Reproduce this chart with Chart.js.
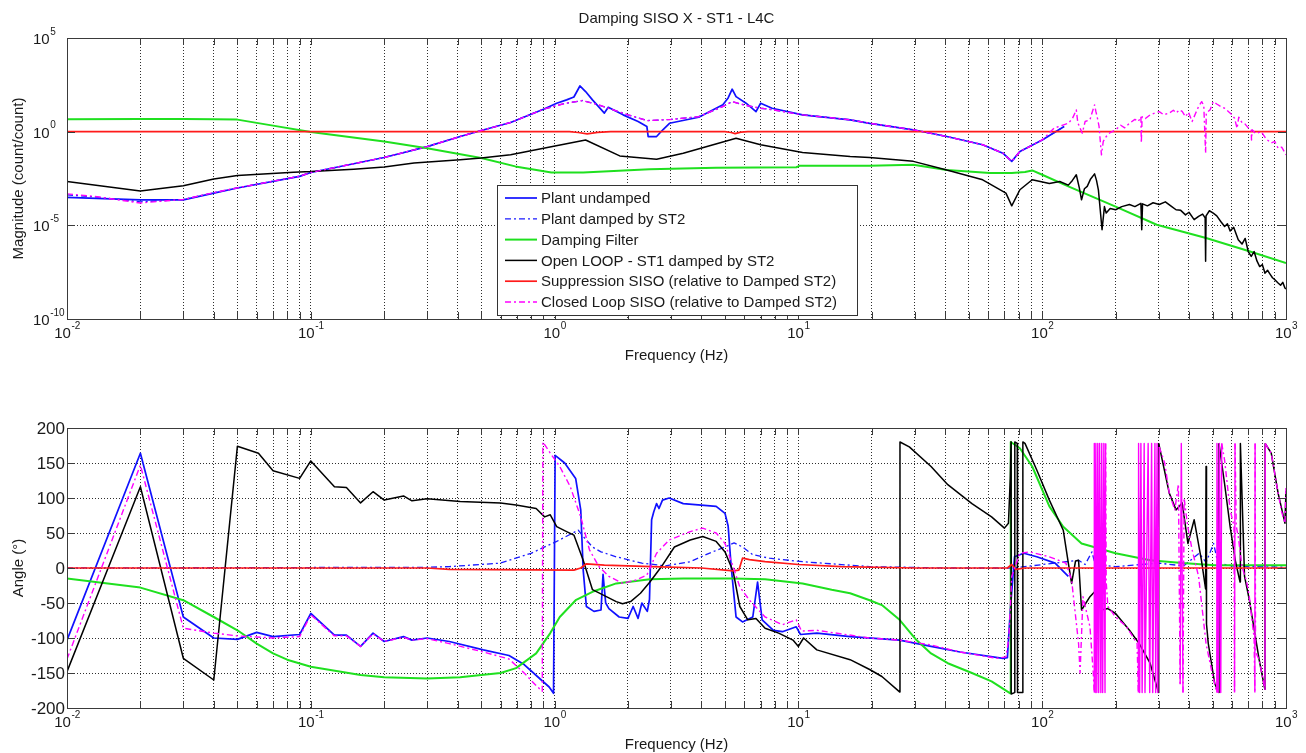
<!DOCTYPE html>
<html>
<head>
<meta charset="utf-8">
<title>Damping SISO X - ST1 - L4C</title>
<script src="https://cdn.jsdelivr.net/npm/chart.js@4.4.1/dist/chart.umd.min.js"></script>
<style>
  html, body { margin: 0; padding: 0; background: #fff; }
  #wrap { position: relative; width: 1306px; height: 753px; overflow: hidden; background: #fff; }
  #wrap canvas { position: absolute; left: 0; }
  #magCanvas { top: 0; }
  #phaseCanvas { top: 376px; }
</style>
</head>
<body>
<div id="wrap">
  <canvas id="magCanvas" width="1306" height="376"></canvas>
  <canvas id="phaseCanvas" width="1306" height="377"></canvas>
</div>
<script>
// ---------------------------------------------------------------
// Axis ticks
// ---------------------------------------------------------------
const freqDecades = [-2, -1, 0, 1, 2];
const freqMantissas = [1, 2, 3, 4, 5, 6, 7, 8, 9];
const freqTickExponents = [-2, -1, 0, 1, 2, 3];
const magTickExponents = [-10, -5, 0, 5];
const angleTicks = [200, 150, 100, 50, 0, -50, -100, -150, -200];

const seriesLabels = [
  'Plant undamped',
  'Plant damped by ST2',
  'Damping Filter',
  'Open LOOP - ST1 damped by ST2',
  'Suppression SISO (relative to Damped ST2)',
  'Closed Loop SISO (relative to Damped ST2)'
];

// ---------------------------------------------------------------
// Magnitude (count/count)
// ---------------------------------------------------------------
const undampedMagHz = [0.01,0.02,0.03,0.04,0.05,0.09,0.1,0.2,0.3,0.41,0.5,0.66,0.9,1.02,1.12,1.2,1.27,1.34,1.43,1.6,1.66,1.91,2.2,2.39,2.42,2.62,2.78,2.96,3.9,4.9,5.15,5.35,5.55,6.1,6.7,7.0,7.8,10.4,16.3,19.6,29.6,40.6,57,69,75,81,100,123];
const undampedMag   = [3.1e-4,2.3e-4,2.3e-4,5.2e-4,9.8e-4,4.1e-3,6.6e-3,4.2e-2,0.16,0.55,1.15,3.1,15.8,33,50,71,275,138,50,9.8,20,7.9,3.5,1.9,0.55,0.55,1.26,2.8,5.9,27,63,186,74,33,11.7,33,17.8,7.9,4.3,2.8,1.26,0.55,0.2,0.071,0.026,0.087,0.36,1.9];

const dampedMagHz = [0.01,0.013,0.02,0.025,0.03,0.04,0.05,0.09,0.1,0.2,0.3,0.41,0.5,0.66,0.9,1.1,1.3,1.5,2.0,2.4,3.0,3.9,4.9,5.35,6.1,7.0,7.8,10.4,16.3,19.6,29.6,40.6,57,69,75,81,100,123];
const dampedMag   = [4.2e-4,3.3e-4,1.8e-4,2.1e-4,2.4e-4,5.4e-4,1.0e-3,4.2e-3,6.6e-3,4.2e-2,0.16,0.55,1.15,3.1,15.8,32,46,28,7.9,3.9,4.5,6.3,22,40,25,17.8,15,7.9,4.3,2.8,1.26,0.55,0.2,0.071,0.026,0.087,0.36,1.9];

const filterMagHz = [0.01,0.02,0.03,0.04,0.05,0.07,0.1,0.2,0.3,0.5,0.69,0.97,1.31,2.45,4.6,9.8,10.1,19.6,29.6,40.6,61,75,85,91,100,128,200,295,470,707,1000];
const filterMag   = [4.6,4.7,4.7,4.6,4.4,2.1,0.95,0.30,0.13,0.039,0.014,6.6e-3,6.6e-3,1.0e-2,1.2e-2,1.26e-2,1.5e-2,1.5e-2,1.7e-2,9.1e-3,6.2e-3,6.2e-3,7.0e-3,8.5e-3,5.0e-3,1.2e-3,1.0e-4,1.07e-5,2.1e-6,4.1e-7,9.8e-8];

const openLoopMagHz = [0.01,0.02,0.03,0.04,0.05,0.085,0.1,0.15,0.2,0.265,0.41,0.5,0.66,0.98,1.34,1.85,2.62,3.37,5.55,7.0,10.4,16.3,19.6,29.6,40.6,57,71,75,81,91,107,118,128,133,138,142,145,149,153,158,164,167,170,176,180,183,190,200,212,228,240,254,256,258,270,285,302,320,340,354,370,387,400,420,438,455,466,468,470,485,503,520,540,560,575,590,610,637,660,680,700,720,740,760,780,800,820,840,860,880,900,928,950,970,990,1000];
const openLoopMag   = [2.2e-3,6.9e-4,1.3e-3,3.0e-3,4.6e-3,6.9e-3,7.4e-3,1.0e-2,1.3e-2,2.1e-2,3.2e-2,3.9e-2,5.8e-2,0.16,0.36,0.051,0.034,0.071,0.45,0.2,0.078,0.047,0.042,0.026,9.1e-3,2.7e-3,5.2e-4,1.1e-4,7.9e-4,2.7e-3,1.7e-3,2.2e-3,1.4e-3,2.5e-3,5.0e-3,1.0e-3,2.3e-4,9.0e-4,1.2e-3,3.0e-3,5.6e-3,2.5e-3,7.9e-4,5.8e-6,1.0e-4,4.5e-5,8.0e-5,6.8e-5,1.0e-4,1.3e-4,1.0e-4,1.5e-4,5.8e-6,1.4e-4,1.1e-4,1.6e-4,1.3e-4,1.8e-4,1.0e-4,6.8e-5,6.3e-5,3.6e-5,5.0e-5,2.0e-5,3.0e-5,4.0e-5,2.5e-5,1.2e-7,3.2e-5,6.0e-5,4.5e-5,3.2e-5,1.6e-5,8.7e-6,1.2e-5,5.0e-6,7.9e-6,1.7e-6,1.0e-6,2.0e-6,4.0e-7,2.2e-7,4.0e-7,1.26e-7,6.3e-8,8.0e-8,2.8e-8,4.0e-8,2.5e-8,1.6e-8,1.26e-8,8.3e-9,6.3e-9,9.0e-9,4.5e-9,4.0e-9];

const suppressionMagHz = [0.01,1.15,1.25,1.36,1.5,1.7,5.0,5.3,5.5,5.8,6.2,1000];
const suppressionMag   = [1,1,0.9,0.76,0.92,1,1,0.9,0.78,0.95,1,1];

const closedLoopMagHz = [0.01,0.013,0.02,0.025,0.03,0.04,0.05,0.09,0.1,0.2,0.3,0.41,0.5,0.66,0.9,1.1,1.3,1.5,2.0,2.4,3.0,3.9,4.9,5.35,6.1,7.0,7.8,10.4,16.3,19.6,29.6,40.6,57,69,75,81,100,112,128,133,138,140,142,146,150,157,160,164,166,168,171,175,178,183,190,200,210,218,228,240,248,254,255,257,265,277,290,302,315,332,345,355,365,375,387,398,412,425,438,451,460,468,471,488,503,520,540,560,580,600,615,630,640,660,676,700,720,722,726,750,792,830,870,900,928,960,1000];
const closedLoopMag   = [4.8e-4,3.5e-4,1.55e-4,2.0e-4,2.4e-4,5.6e-4,1.0e-3,4.2e-3,6.6e-3,4.2e-2,0.16,0.55,1.15,3.1,15.8,32,46,28,7.9,3.9,4.5,6.3,22,40,25,17.8,15,7.9,4.3,2.8,1.26,0.55,0.2,0.071,0.026,0.087,0.36,1.55,2.8,5,14.5,3,1.9,0.83,3.5,4.3,10,27,12,6.3,2,0.058,0.3,0.55,0.9,1.26,2.2,1.6,2.8,4.5,3.5,6.3,0.25,6.3,5,7.9,10,11.7,8,9.8,14,10,14.5,12,6.3,11,3.5,9,22,40,25,0.071,10,14.5,40,30,22,17.8,12,8,5.2,1.5,6,3,2.8,1.6,1.26,0.36,1.26,0.8,1.0,0.4,0.25,0.3,0.13,0.15,0.058];

// ---------------------------------------------------------------
// Angle (deg)
// ---------------------------------------------------------------
const undampedPhaseHz = [0.01,0.02,0.03,0.04,0.05,0.06,0.07,0.09,0.1,0.125,0.14,0.16,0.18,0.2,0.24,0.26,0.3,0.37,0.51,0.65,0.75,0.85,0.95,0.99,1.005,1.1,1.22,1.28,1.31,1.35,1.45,1.55,1.58,1.62,1.67,1.84,2.0,2.1,2.2,2.28,2.4,2.45,2.5,2.55,2.62,2.68,2.77,2.95,3.37,4.6,5.0,5.15,5.3,5.55,5.9,6.5,6.8,7.1,7.9,8.6,9.8,10.2,11.9,16.3,26,35,46,69,72,74,77,84,95,113,128];
const undampedPhase   = [-103,164,-70,-100,-102,-92,-98,-95,-65,-96,-96,-112,-93,-105,-98,-103,-100,-105,-117,-125,-138,-155,-170,-179,161,150,128,83,-3,-55,-62,-60,-9,-50,-58,-70,-72,-55,-72,-50,-62,-45,69,80,92,85,97,100,92,88,78,60,2,-70,-77,-70,-20,-74,-89,-91,-84,-95,-93,-98,-103,-112,-120,-129,-128,-60,16,21,16,7,-12];

const dampedPhaseHz = [0.01,0.3,0.37,0.6,0.8,1.02,1.25,1.31,1.43,1.55,1.79,2.28,2.85,3.6,4.3,5.0,5.45,5.9,6.5,7.6,10.4,19.6,40,75,90,141,150,160,165,200,300,380,440,470,505,525,600,707,1000];
const dampedPhase   = [0,1,2,7,21,38,54,45,30,23,16,7,3,9,21,30,36,30,19,14,9,2,0,0,3,11,5,23,5,2,7,3,21,8,35,7,3,2,1];

const filterPhaseHz = [0.01,0.02,0.03,0.04,0.05,0.06,0.07,0.08,0.1,0.16,0.2,0.3,0.41,0.5,0.6,0.695,0.84,0.96,1.05,1.22,1.43,1.79,2.46,3.37,5.4,7.3,10.4,13.7,16.3,19.6,22,26,30.5,35,41,51.5,62,74,74.3,81,91,107,122,145,200,277,375,510,1000];
const filterPhase   = [-15,-28,-46,-70,-89,-108,-122,-131,-141,-153,-156,-158,-156,-153,-150,-143,-122,-93,-70,-46,-34,-22,-16,-15,-15,-16,-22,-31,-36,-46,-53,-74,-103,-122,-136,-150,-162,-179,180,171,145,88,59,35,21,11,7,4,4];

const openLoopPhaseHz = [0.01,0.02,0.03,0.04,0.05,0.061,0.07,0.09,0.1,0.125,0.14,0.16,0.18,0.2,0.24,0.26,0.3,0.41,0.6,0.695,0.84,0.91,0.96,1.02,1.12,1.2,1.31,1.43,1.63,1.79,1.9,2.05,2.25,2.46,2.77,3.1,3.6,4.05,4.6,5.0,5.4,5.75,6.2,6.7,7.3,8.3,9.5,10,10.5,11.9,16.3,19.6,22,26,26.1,28.5,35,41,51.5,62,70,72.7,74,74.5,74.6,77,77.2,79,79.2,83,83.3,85,95,107,122,128,132,137,141,145,157,167,175,186,200,228,250,277,290,300,300.5,332,354,375,396,420,450,468,470,472,480,510,530,531,560,590,620,648,650,676,707,776,820,821,870,928,990,1000];
const openLoopPhase   = [-148,116,-129,-160,174,164,139,128,153,116,115,93,109,97,103,96,99,95,93,90,85,73,76,59,52,47,11,-31,-41,-48,-51,-48,-36,-20,4,30,40,45,38,23,-5,-55,-74,-72,-86,-93,-103,-112,-100,-117,-131,-145,-155,-177,180,173,145,119,92,73,57,64,130,180,-180,-178,180,178,-178,-178,180,178,140,97,54,7,-22,10,11,-60,-41,-31,-60,-58,-65,-89,-108,-136,-160,-178,178,107,83,93,35,69,11,-30,145,-80,-108,-165,-178,178,120,59,10,-20,178,-12,-45,-131,-174,178,164,107,64,110];

const suppressionPhaseHz = [0.01,0.3,0.37,1.2,1.28,1.35,1.6,2.5,4.0,5.4,5.7,5.9,6.3,7.3,10,15,30,72,75,78,85,1000];
const suppressionPhase   = [0,0,-2,-3,0,6,4,2,0,-4,-3,14,12,9,5,2,0,0,5,-2,0,0];

const closedLoopPhaseHz = [0.01,0.02,0.03,0.04,0.05,0.07,0.09,0.1,0.125,0.14,0.16,0.18,0.2,0.24,0.26,0.3,0.37,0.51,0.65,0.75,0.84,0.89,0.895,0.96,1.05,1.16,1.28,1.39,1.52,1.67,1.9,2.17,2.39,2.62,2.95,3.6,4.05,4.6,5.0,5.4,5.75,6.3,7.3,8.6,9.8,10.3,11.9,19.6,26,35,46,65,71,73,75,81,89,107,125,132,141,143,147,157,162,163.5,163.6,165,166,167.5,169,170.5,172,174,175.5,177,179,181,182,183,186,200,222,245,248,248.5,251,254,257,262,264,272,276,281,284,290,292,296,298,302,318,332,350,362,368,372,378,382,395,412,438,470,495,520,521,527,533,540,545,560,590,612,615,618,625,637,660,690,707,740,745,747,750,776,820,822,870,928,960,990,1000];
const closedLoopPhase   = [-130,147,-86,-93,-97,-100,-98,-67,-97,-97,-112,-94,-105,-99,-103,-101,-108,-120,-130,-150,-168,-176,180,164,145,116,73,26,2,-12,-22,-17,-10,21,40,52,57,50,35,2,-27,-46,-70,-81,-74,-90,-89,-100,-103,-110,-120,-129,-127,-100,-12,21,23,16,7,-17,-108,-150,-41,-84,-150,-178,178,-178,178,-178,178,-178,178,-178,178,-178,178,-178,178,-20,-55,-70,-84,-108,-178,178,-178,178,-178,178,-178,178,-178,178,-178,178,-178,178,-178,173,150,107,83,120,-166,178,-178,100,60,26,-12,-108,-146,-178,178,-178,178,-178,178,154,83,60,-178,178,60,45,2,-20,-41,-100,-178,178,-120,-131,-174,178,164,107,80,64,116];

// ---------------------------------------------------------------
// Chart construction
// ---------------------------------------------------------------
const FONT = '"Liberation Sans", Arial, Helvetica, sans-serif';
const TEXT_COLOR = '#1a1a1a';
const AXIS_COLOR = '#3a3a3a';
const GRID_COLOR = '#2e2e2e';

const freqGrid = [];
freqDecades.forEach(d => freqMantissas.forEach(m => freqGrid.push(+(m * Math.pow(10, d)).toPrecision(3))));
freqGrid.push(1000);

const lineStyles = [
  { borderColor: '#1010ff', borderWidth: 1.7, borderDash: [], order: 5 },
  { borderColor: '#1a1aff', borderWidth: 1.3, borderDash: [6, 3, 2, 3], order: 4 },
  { borderColor: '#1fe01f', borderWidth: 2.0, borderDash: [], order: 3 },
  { borderColor: '#000000', borderWidth: 1.5, borderDash: [], order: 2 },
  { borderColor: '#ff1a1a', borderWidth: 1.7, borderDash: [], order: 1 },
  { borderColor: '#ff00ff', borderWidth: 1.4, borderDash: [6, 3, 2, 3], order: 0 }
];

function points(hz, vals) {
  return hz.map((f, i) => ({ x: f, y: vals[i] }));
}

// wrapSolid: on the angle plot above 100 Hz, the +-180 deg wrap strokes
// of the noisy traces are so dense that they read as solid bars
function makeDatasets(pairs, wrapSolid) {
  return pairs.map(([hz, vals], i) => {
    const ds = Object.assign({
      label: seriesLabels[i],
      data: points(hz, vals),
      pointRadius: 0,
      pointHoverRadius: 0,
      tension: 0,
      fill: false,
      borderJoinStyle: 'round',
      borderCapStyle: 'butt'
    }, lineStyles[i]);
    if (wrapSolid) {
      ds.segment = {
        borderDash: c => (c.p0.parsed.x > 100 && Math.abs(c.p1.parsed.y - c.p0.parsed.y) > 300) ? [] : undefined
      };
    }
    return ds;
  });
}

function freqAxis() {
  return {
    type: 'logarithmic',
    min: 0.01,
    max: 1000,
    afterBuildTicks: s => { s.ticks = freqGrid.map(v => ({ value: v })); },
    ticks: { display: false, autoSkip: false },
    grid: { color: GRID_COLOR, lineWidth: 1, drawTicks: false },
    border: { display: true, color: AXIS_COLOR, width: 1, dash: [1, 2] }
  };
}

function line(ctx, x1, y1, x2, y2) {
  ctx.beginPath(); ctx.moveTo(x1, y1); ctx.lineTo(x2, y2); ctx.stroke();
}

// "10" with a raised exponent, as in the log-axis labels
function powerLabel(ctx, x, y, exp, align) {
  const base = '10', sup = String(exp);
  ctx.font = '15px ' + FONT;
  const wb = ctx.measureText(base).width;
  ctx.font = '10px ' + FONT;
  const ws = ctx.measureText(sup).width;
  const x0 = align === 'center' ? x - (wb + ws) / 2 : x;
  ctx.textAlign = 'left';
  ctx.textBaseline = 'middle';
  ctx.font = '15px ' + FONT;
  ctx.fillText(base, x0, y);
  ctx.font = '10px ' + FONT;
  ctx.fillText(sup, x0 + wb + 0.5, y - 8);
}

const axesDecor = {
  id: 'axesDecor',
  afterDraw(chart, args, o) {
    const { ctx, chartArea: a, scales } = chart;
    ctx.save();
    ctx.setLineDash([]);
    ctx.strokeStyle = AXIS_COLOR;
    ctx.lineWidth = 1;

    // inward tick marks on all four sides
    freqGrid.forEach(v => {
      const x = Math.round(scales.x.getPixelForValue(v)) + 0.5;
      line(ctx, x, a.bottom, x, a.bottom - 7);
      line(ctx, x, a.top, x, a.top + 7);
    });
    o.yTickValues.forEach(v => {
      const y = Math.round(scales.y.getPixelForValue(v)) + 0.5;
      line(ctx, a.left, y, a.left + 8, y);
      line(ctx, a.right, y, a.right - 8, y);
    });

    // box
    ctx.strokeRect(Math.round(a.left) + 0.5, Math.round(a.top) + 0.5,
                   Math.round(a.right - a.left), Math.round(a.bottom - a.top));

    ctx.fillStyle = TEXT_COLOR;

    // frequency tick labels
    freqTickExponents.forEach(e => {
      powerLabel(ctx, scales.x.getPixelForValue(Math.pow(10, e)), a.bottom + 15, e, 'center');
    });

    // y tick labels
    if (o.yKind === 'pow') {
      magTickExponents.forEach(e => {
        powerLabel(ctx, 33, scales.y.getPixelForValue(Math.pow(10, e)) + 2, e, 'left');
      });
    } else {
      ctx.font = '17px ' + FONT;
      ctx.textAlign = 'right';
      ctx.textBaseline = 'middle';
      angleTicks.forEach(v => ctx.fillText(String(v), a.left - 2, scales.y.getPixelForValue(v) + 1));
    }

    // axis titles
    ctx.font = '15px ' + FONT;
    ctx.textAlign = 'center';
    ctx.textBaseline = 'middle';
    ctx.fillText('Frequency (Hz)', (a.left + a.right) / 2, a.bottom + 37);
    ctx.save();
    ctx.translate(19, (a.top + a.bottom) / 2);
    ctx.rotate(-Math.PI / 2);
    ctx.fillText(o.yTitle, 0, 0);
    ctx.restore();

    if (o.title) {
      ctx.font = '15px ' + FONT;
      ctx.textAlign = 'center';
      ctx.textBaseline = 'alphabetic';
      ctx.fillText(o.title, (a.left + a.right) / 2, 23);
    }

    if (o.legendBox) {
      const b = o.legendBox;
      ctx.fillStyle = '#ffffff';
      ctx.fillRect(b.left, b.top, b.right - b.left, b.bottom - b.top);
      ctx.strokeStyle = '#333';
      ctx.lineWidth = 1;
      ctx.strokeRect(b.left + 0.5, b.top + 0.5, b.right - b.left, b.bottom - b.top);
      chart.data.datasets.forEach((ds, i) => {
        const y = b.top + 13 + i * 20.8;
        ctx.strokeStyle = ds.borderColor;
        ctx.lineWidth = ds.borderWidth;
        ctx.setLineDash(ds.borderDash || []);
        line(ctx, b.left + 8, y, b.left + 40, y);
        ctx.setLineDash([]);
        ctx.fillStyle = TEXT_COLOR;
        ctx.font = '15px ' + FONT;
        ctx.textAlign = 'left';
        ctx.textBaseline = 'middle';
        ctx.fillText(ds.label, b.left + 44, y + 1);
      });
    }
    ctx.restore();
  }
};

const common = {
  responsive: false,
  animation: false,
  devicePixelRatio: 1,
  events: [],
  parsing: true,
  plugins: { legend: { display: false }, tooltip: { enabled: false }, title: { display: false } }
};

new Chart(document.getElementById('magCanvas'), {
  type: 'line',
  data: {
    datasets: makeDatasets([
      [undampedMagHz, undampedMag],
      [dampedMagHz, dampedMag],
      [filterMagHz, filterMag],
      [openLoopMagHz, openLoopMag],
      [suppressionMagHz, suppressionMag],
      [closedLoopMagHz, closedLoopMag]
    ], false)
  },
  options: Object.assign({}, common, {
    layout: { padding: { left: 67, right: 20, top: 38, bottom: 57 } },
    scales: {
      x: freqAxis(),
      y: {
        type: 'logarithmic',
        min: 1e-10,
        max: 1e5,
        afterBuildTicks: s => { s.ticks = magTickExponents.map(e => ({ value: Math.pow(10, e) })); },
        ticks: { display: false, autoSkip: false },
        grid: { color: GRID_COLOR, lineWidth: 1, drawTicks: false },
        border: { display: true, color: AXIS_COLOR, width: 1, dash: [1, 2] }
      }
    },
    plugins: Object.assign({}, common.plugins, {
      axesDecor: {
        yKind: 'pow',
        yTickValues: magTickExponents.map(e => Math.pow(10, e)),
        yTitle: 'Magnitude (count/count)',
        title: 'Damping SISO X - ST1 - L4C',
        legendBox: { left: 497, top: 185, right: 857, bottom: 315 }
      }
    })
  }),
  plugins: [axesDecor]
});

new Chart(document.getElementById('phaseCanvas'), {
  type: 'line',
  data: {
    datasets: makeDatasets([
      [undampedPhaseHz, undampedPhase],
      [dampedPhaseHz, dampedPhase],
      [filterPhaseHz, filterPhase],
      [openLoopPhaseHz, openLoopPhase],
      [suppressionPhaseHz, suppressionPhase],
      [closedLoopPhaseHz, closedLoopPhase]
    ], true)
  },
  options: Object.assign({}, common, {
    layout: { padding: { left: 67, right: 20, top: 52, bottom: 45 } },
    scales: {
      x: freqAxis(),
      y: {
        type: 'linear',
        min: -200,
        max: 200,
        afterBuildTicks: s => { s.ticks = angleTicks.map(v => ({ value: v })); },
        ticks: { display: false, autoSkip: false },
        grid: { color: GRID_COLOR, lineWidth: 1, drawTicks: false },
        border: { display: true, color: AXIS_COLOR, width: 1, dash: [1, 2] }
      }
    },
    plugins: Object.assign({}, common.plugins, {
      axesDecor: {
        yKind: 'lin',
        yTickValues: angleTicks,
        yTitle: 'Angle (\u00B0)',
        title: null,
        legendBox: null
      }
    })
  }),
  plugins: [axesDecor]
});
</script>
</body>
</html>
